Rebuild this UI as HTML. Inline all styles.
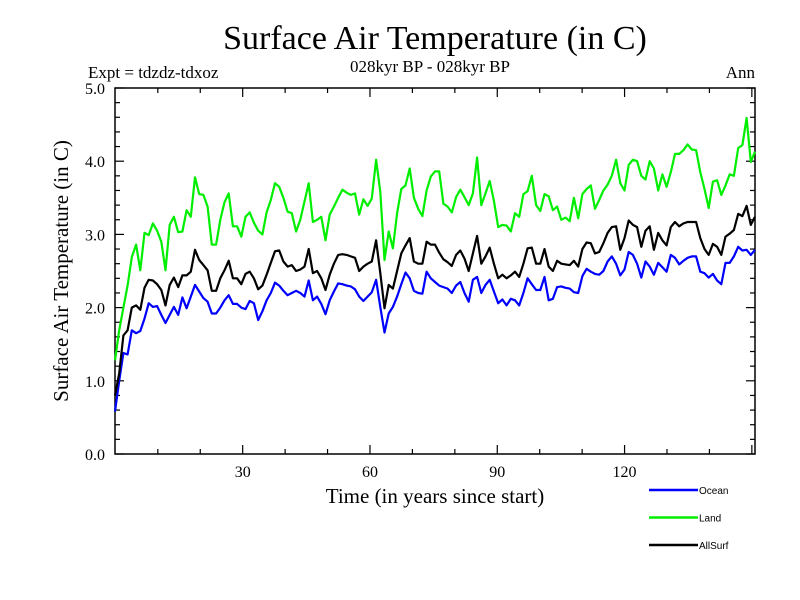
<!DOCTYPE html>
<html><head><meta charset="utf-8"><style>
html,body{margin:0;padding:0;background:#fff;}
svg{display:block;}
</style></head><body>
<svg id="chart" width="800" height="600" xmlns="http://www.w3.org/2000/svg">
<rect width="800" height="600" fill="#fff"/>
<text x="435" y="49" font-family="Liberation Serif, serif" font-size="34" text-anchor="middle">Surface Air Temperature (in C)</text>
<text x="88" y="78" font-family="Liberation Serif, serif" font-size="17">Expt = tdzdz-tdxoz</text>
<text x="430" y="72" font-family="Liberation Serif, serif" font-size="17" text-anchor="middle">028kyr BP - 028kyr BP</text>
<text x="755" y="78" font-family="Liberation Serif, serif" font-size="17" text-anchor="end">Ann</text>
<text transform="translate(68,271) rotate(-90)" font-family="Liberation Serif, serif" font-size="21" text-anchor="middle">Surface Air Temperature (in C)</text>
<text x="435" y="503" font-family="Liberation Serif, serif" font-size="21" text-anchor="middle">Time (in years since start)</text>
<g id="axes"></g>
<g id="series"></g>
<g id="legend"></g>
</svg>
<script>
const ocean=[0.58,1.0,1.38,1.36,1.69,1.65,1.68,1.85,2.06,2.01,2.02,1.9,1.79,1.9,2.01,1.9,2.14,1.99,2.15,2.31,2.22,2.13,2.08,1.92,1.92,2.0,2.1,2.17,2.05,2.05,2.0,1.98,2.09,2.06,1.83,1.95,2.1,2.2,2.34,
2.3,2.23,2.17,2.2,2.23,2.2,2.15,2.37,2.1,2.15,2.05,1.91,2.1,2.22,2.33,2.32,2.3,2.29,2.25,2.15,2.09,2.15,2.21,2.38,2.01,1.66,1.92,2.01,2.15,2.32,2.48,2.4,2.23,2.2,2.19,2.49,2.4,2.35,
2.3,2.28,2.26,2.2,2.3,2.35,2.2,2.08,2.38,2.42,2.2,2.31,2.38,2.22,2.06,2.11,2.03,2.12,2.1,2.03,2.2,2.4,2.32,2.24,2.24,2.42,2.1,2.12,2.28,2.29,2.27,2.26,2.21,2.2,2.43,2.53,2.49,2.46,
2.45,2.5,2.63,2.7,2.6,2.44,2.52,2.76,2.72,2.6,2.41,2.63,2.56,2.45,2.61,2.55,2.49,2.72,2.68,2.59,2.64,2.68,2.7,2.7,2.49,2.47,2.41,2.46,2.37,2.32,2.61,2.61,2.7,2.83,2.78,2.79,2.72,2.79];
const land=[1.28,1.69,2.0,2.3,2.69,2.86,2.51,3.02,2.99,3.15,3.05,2.9,2.51,3.13,3.24,3.03,3.04,3.33,3.24,3.78,3.55,3.54,3.38,2.86,2.86,3.2,3.44,3.56,3.11,3.11,2.97,3.24,3.3,3.16,3.05,3.0,3.3,3.47,3.7,
3.65,3.5,3.31,3.29,3.04,3.2,3.45,3.7,3.17,3.2,3.24,2.92,3.27,3.38,3.5,3.61,3.57,3.54,3.56,3.27,3.48,3.39,3.49,4.02,3.58,2.65,3.04,2.81,3.29,3.62,3.67,3.9,3.5,3.35,3.25,3.6,3.79,3.86,
3.86,3.42,3.38,3.3,3.51,3.61,3.51,3.4,3.56,4.05,3.4,3.56,3.73,3.46,3.1,3.13,3.12,3.04,3.29,3.24,3.55,3.59,3.8,3.4,3.32,3.55,3.52,3.33,3.38,3.2,3.23,3.18,3.5,3.22,3.55,3.62,3.67,3.35,
3.47,3.6,3.68,3.8,4.02,3.7,3.6,3.95,4.02,4.0,3.8,3.75,4.0,3.9,3.6,3.82,3.65,3.85,4.1,4.1,4.15,4.23,4.16,4.15,3.85,3.62,3.36,3.72,3.74,3.54,3.67,3.82,3.8,4.18,4.22,4.59,3.99,4.13];
const allSurf=[0.8,1.1,1.62,1.69,2.0,2.03,1.97,2.27,2.38,2.37,2.32,2.24,2.03,2.31,2.41,2.28,2.44,2.44,2.49,2.79,2.65,2.58,2.51,2.23,2.23,2.4,2.51,2.64,2.4,2.4,2.32,2.46,2.49,2.4,2.25,2.3,2.45,2.61,2.77,
2.78,2.63,2.56,2.58,2.5,2.52,2.56,2.8,2.47,2.5,2.4,2.24,2.45,2.6,2.72,2.73,2.72,2.7,2.68,2.5,2.56,2.6,2.63,2.92,2.47,1.99,2.31,2.26,2.5,2.74,2.85,2.95,2.63,2.6,2.6,2.9,2.86,2.86,
2.75,2.66,2.62,2.57,2.72,2.78,2.67,2.5,2.74,2.98,2.6,2.7,2.82,2.6,2.4,2.45,2.4,2.44,2.49,2.42,2.6,2.81,2.82,2.6,2.6,2.8,2.56,2.5,2.64,2.6,2.59,2.58,2.64,2.56,2.8,2.89,2.88,2.74,
2.76,2.88,3.02,3.1,3.11,2.79,2.95,3.19,3.13,3.1,2.83,3.05,3.11,2.79,3.02,2.92,2.85,3.1,3.17,3.11,3.15,3.17,3.17,3.17,2.95,2.8,2.72,2.87,2.83,2.72,2.97,3.01,3.06,3.28,3.25,3.39,3.13,3.24];
const xTickLabels=[30,60,90,120];
const yTickLabels=["0.0","1.0","2.0","3.0","4.0","5.0"];
const seriesNames=["Ocean","Land","AllSurf"];

const NS="http://www.w3.org/2000/svg";
const L=115,R=755,T=88,B=454;
const XMAX=ocean.length-1;
const xs=t=>L+(t/XMAX)*(R-L);
const xa=t=>115.4+t*4.243;
const ys=v=>B-(v/5)*(B-T);
function mk(tag,attrs,parent){const e=document.createElementNS(NS,tag);for(const k in attrs)e.setAttribute(k,attrs[k]);parent.appendChild(e);return e;}
const axes=document.getElementById('axes');
const frame=mk('rect',{x:L,y:T,width:R-L,height:B-T,fill:'none',stroke:'#000','stroke-width':1.5},axes);


for(let i=0;i<=25;i++){const v=i*0.2;const y=ys(v);const len=(i%5===0)?9:5;
 const t1=mk('line',{x1:L,x2:L+len,y1:y,y2:y,stroke:'#000','stroke-width':1.2},axes);
 
 
 const t2=mk('line',{x1:R,x2:R-len,y1:y,y2:y,stroke:'#000','stroke-width':1.2},axes);
 
 }
yTickLabels.forEach((s,i)=>{const tx=mk('text',{x:L-10,y:ys(i)+6,'font-family':'Liberation Serif, serif','font-size':16,'text-anchor':'end'},axes);tx.textContent=s;
 
 });
for(let t=10;t<=150;t+=10){const x=xa(t);const len=(t%30===0)?9:5;
 const a=mk('line',{x1:x,x2:x,y1:B,y2:B-len,stroke:'#000','stroke-width':1.2},axes);
 
 
 const b=mk('line',{x1:x,x2:x,y1:T,y2:T+len,stroke:'#000','stroke-width':1.2},axes);
 
 }
xTickLabels.forEach(t=>{const tx=mk('text',{x:xa(t),y:B+23,'font-family':'Liberation Serif, serif','font-size':16,'text-anchor':'middle'},axes);tx.textContent=t;
 
 });
const sg=document.getElementById('series');
const sets=[[ocean,'#0000ff','ocean-line'],[land,'#00ee00','land-line'],[allSurf,'#000000','allsurf-line']];
sets.forEach(([d,c,n])=>{const pts=d.map((v,i)=>xs(i).toFixed(1)+','+ys(v).toFixed(1)).join(' ');
 const p=mk('polyline',{points:pts,fill:'none',stroke:c,'stroke-width':2.2,'stroke-linejoin':'round'},sg);
 
 });
const lg=document.getElementById('legend');
const lcol=['#0000ff','#00ee00','#000000'];
seriesNames.forEach((s,i)=>{const y=490+i*27.5;
 const ln=mk('line',{x1:649,x2:698,y1:y,y2:y,stroke:lcol[i],'stroke-width':2.5},lg);
 
 
 const tx=mk('text',{x:699,y:y+4,'font-family':'Liberation Sans, sans-serif','font-size':10},lg);tx.textContent=s;
 
 });
</script>
</body></html>
